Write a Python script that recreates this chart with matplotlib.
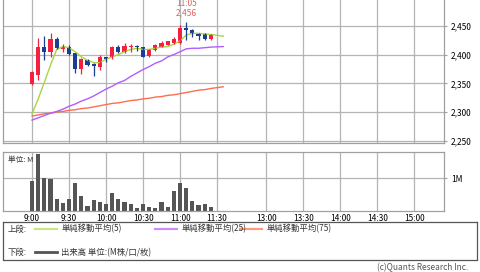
import matplotlib
matplotlib.use("Agg")
import matplotlib.pyplot as plt
from matplotlib.ticker import FuncFormatter

plt.rcParams['font.family'] = ['Noto Sans CJK JP', 'DejaVu Sans']

# 5-minute bars, morning session
times = ["9:00", "9:05", "9:10", "9:15", "9:20", "9:25", "9:30", "9:35", "9:40", "9:45",
         "9:50", "9:55", "10:00", "10:05", "10:10", "10:15", "10:20", "10:25", "10:30", "10:35",
         "10:40", "10:45", "10:50", "10:55", "11:00", "11:05", "11:10", "11:15", "11:20", "11:25"]
opens = [2348, 2364, 2414, 2405, 2427, 2410, 2414, 2402, 2375, 2390,
         2384, 2379, 2395, 2395, 2414, 2404, 2413, 2415, 2413, 2397,
         2408, 2414, 2417, 2421, 2421, 2446, 2443, 2437, 2436, 2427]
highs = [2371, 2428, 2432, 2437, 2430, 2418, 2416, 2403, 2394, 2393,
         2385, 2399, 2396, 2415, 2417, 2420, 2419, 2416, 2414, 2410,
         2418, 2423, 2424, 2430, 2452, 2456, 2444, 2438, 2437, 2435]
lows = [2347, 2355, 2390, 2395, 2409, 2404, 2400, 2368, 2367, 2380,
        2362, 2373, 2387, 2393, 2402, 2402, 2405, 2407, 2395, 2395,
        2406, 2413, 2416, 2419, 2419, 2425, 2430, 2426, 2425, 2426]
closes = [2370, 2414, 2405, 2427, 2411, 2414, 2401, 2375, 2393, 2382,
          2380, 2395, 2393, 2414, 2405, 2415, 2415, 2413, 2396, 2409,
          2417, 2421, 2423, 2427, 2446, 2442, 2436, 2433, 2427, 2434]
volume = [0.90, 1.72, 1.00, 0.97, 0.36, 0.25, 0.36, 0.85, 0.45, 0.14,
          0.33, 0.27, 0.21, 0.56, 0.36, 0.27, 0.21, 0.10, 0.21, 0.12,
          0.10, 0.27, 0.13, 0.62, 0.84, 0.69, 0.31, 0.18, 0.20, 0.12]

# moving averages (last point is the running bar at 11:35)
ma_times = times + ["11:35"]
ma5 = [2297, 2323, 2352, 2382, 2409, 2414, 2412, 2405, 2396, 2390,
       2386, 2386, 2392, 2396, 2400, 2405, 2409, 2411, 2409, 2409,
       2411, 2413, 2414, 2418, 2424, 2434, 2437, 2437, 2436, 2435, 2432]
ma25 = [2286, 2290, 2294, 2298, 2301, 2305, 2310, 2314, 2319, 2323,
        2328, 2334, 2340, 2345, 2351, 2355, 2362, 2368, 2374, 2379,
        2385, 2389, 2396, 2400, 2405, 2410, 2411, 2411, 2412, 2413, 2414]
ma75 = [2293, 2295, 2297, 2298, 2300, 2301, 2303, 2304, 2306, 2307,
        2309, 2311, 2313, 2315, 2316, 2318, 2320, 2321, 2323, 2324,
        2326, 2327, 2329, 2330, 2332, 2334, 2336, 2338, 2339, 2341, 2344]

tick_labels = ["9:00", "9:30", "10:00", "10:30", "11:00", "11:30",
               "13:00", "13:30", "14:00", "14:30", "15:00"]
price_ticks = [2250, 2300, 2350, 2400, 2450]

high_time = "11:05"
high_price = 2456


def pos(t):
    h, m = map(int, t.split(":"))
    mins = h * 60 + m - 540
    if mins >= 240:  # afternoon session, lunch break compressed
        mins = mins - 240 + 190
    return mins


W, H = 480, 272


def px_axes(x0, y0, x1, y1):
    return fig.add_axes([x0 / W, 1 - y1 / H, (x1 - x0) / W, (y1 - y0) / H])


fig = plt.figure(figsize=(4.8, 2.72), dpi=100)
grid_c = "#b4b4b4"
edge_c = "#a0a0a0"
up_c = "#f5203f"
down_c = "#1b3d93"
xlim = (-23.8, 334)

ax = px_axes(2.7, 0, 444, 142.5)
ax2 = px_axes(2.7, 152, 444, 211)

xs = [pos(t) for t in times]
mxs = [pos(t) for t in ma_times]

for a in (ax, ax2):
    a.set_xlim(*xlim)
    a.set_xticks([pos(t) for t in tick_labels])
    a.grid(True, color=grid_c, linewidth=0.9)
    a.set_axisbelow(True)
    for s in a.spines.values():
        s.set_color(edge_c)
        s.set_linewidth(0.9)
    a.yaxis.tick_right()
    a.tick_params(axis="y", length=2, color=edge_c, labelsize=6, pad=3)
    a.tick_params(axis="x", length=0)
ax.spines["top"].set_visible(False)

# price panel
ax.plot(mxs, ma75, color="#ff6d4f", linewidth=1.0)
ax.plot(mxs, ma25, color="#b25cff", linewidth=1.0)
ax.plot(mxs, ma5, color="#a9d443", linewidth=1.0)
cols = [up_c if c >= o else down_c for o, c in zip(opens, closes)]
ax.vlines(xs, lows, highs, colors=cols, linewidth=0.9)
bottoms = [min(o, c) for o, c in zip(opens, closes)]
heights = [max(abs(c - o), 1.5) for o, c in zip(opens, closes)]
ax.bar(xs, heights, bottom=bottoms, width=3.4, color=cols, linewidth=0)
ax.set_ylim(2247, 2495)
ax.set_yticks(price_ticks)
ax.yaxis.set_major_formatter(FuncFormatter(lambda v, p: f"{v:,.0f}"))
ax.set_xticklabels([])
ax.text(pos(high_time), high_price + 9, f"{high_time}\n{high_price:,}",
        color="#e0605c", fontsize=6, ha="center", va="bottom", linespacing=1.0)

# volume panel
ax2.bar(xs, volume, width=3.4, color="#555555", linewidth=0)
ax2.set_ylim(0, 1.79)
ax2.set_yticks([1.0])
ax2.set_yticklabels(["1M"])
ax2.set_xticklabels(tick_labels, fontsize=6)
ax2.tick_params(axis="x", pad=2)
ax2.text(0.012, 0.93, "単位: M", transform=ax2.transAxes, fontsize=5.5,
         va="top", ha="left", color="#333333")

# legend box
lg = px_axes(2.5, 222, 477, 259.5)
lg.set_xlim(0, 474.5)
lg.set_ylim(259.5, 222)
lg.set_xticks([])
lg.set_yticks([])
for s in lg.spines.values():
    s.set_color("#555555")
    s.set_linewidth(0.9)
rows = [(229, "上段:", [(33, "#c8e68a", "単純移動平均(5)"),
                       (153, "#cc8cff", "単純移動平均(25)"),
                       (238, "#ff9a82", "単純移動平均(75)")]),
        (252.5, "下段:", [(33, "#555555", "出来高 単位:(M株/口/枚)")])]
for y, head, items in rows:
    lg.text(5.5, y, head, fontsize=6, va="center", ha="left", color="#333333")
    for x0, c, label in items:
        lg.plot([x0, x0 + 22], [y, y], color=c, linewidth=1.6 if c != "#555555" else 2.0)
        lg.text(x0 + 26, y, label, fontsize=6, va="center", ha="left", color="#333333")

fig.text(377 / W, 1 - 268 / H, "(c)Quants Research Inc.", fontsize=6,
         va="center", ha="left", color="#555555")

fig.savefig("out.png", dpi=100)
